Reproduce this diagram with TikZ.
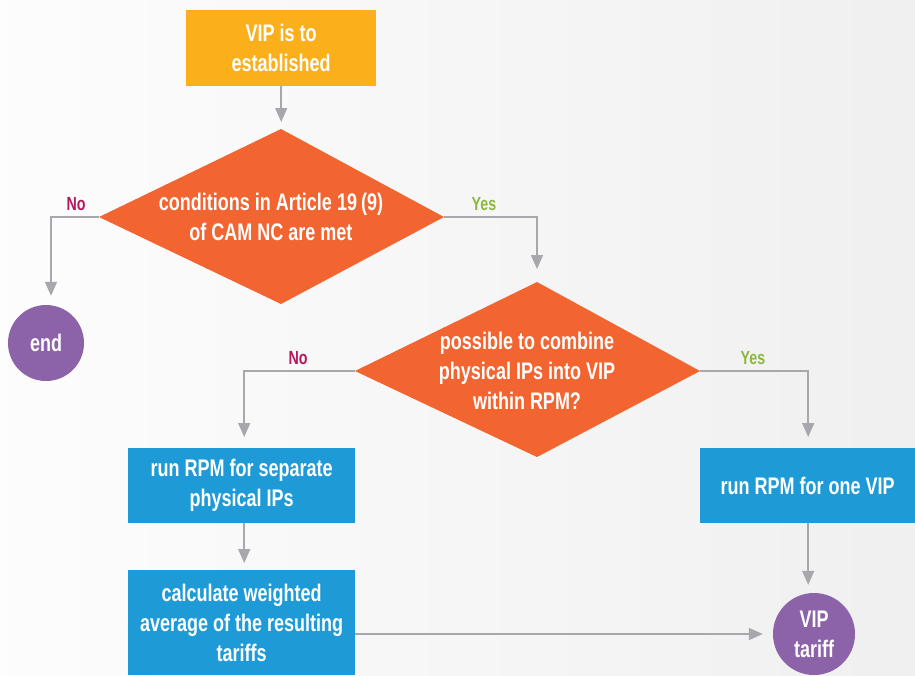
\documentclass[tikz,border=0pt]{standalone}
\usepackage{fontspec}
\setmainfont{Liberation Sans}[FakeStretch=0.75]
\usetikzlibrary{arrows.meta,shapes.geometric,calc}
\definecolor{bg}{HTML}{F7F7F7}
\definecolor{cyel}{HTML}{FBB01B}
\definecolor{cora}{HTML}{F26531}
\definecolor{cblu}{HTML}{1E9BD7}
\definecolor{cpur}{HTML}{8C62A9}
\definecolor{carr}{HTML}{A7A8AB}
\definecolor{cno}{HTML}{B5195D}
\definecolor{cyes}{HTML}{8CB83F}
\tikzset{
  maintxt/.style={text=white,font=\fontsize{24}{30}\selectfont\bfseries,align=center},
  boxy/.style={maintxt,fill=#1,inner sep=0pt,anchor=north west},
  circ/.style={maintxt,circle,fill=cpur,inner sep=0pt},
  conn/.style={draw=carr,line width=1.5pt,-{Triangle[width=12pt,length=14pt]}},
  lab/.style={font=\fontsize{19}{20}\selectfont\bfseries}
}
\begin{document}
\begin{tikzpicture}[x=1pt,y=-1pt]
\useasboundingbox (0,0) rectangle (915,675);
\shade[left color=white!70!bg,right color=bg!97!black] (0,0) rectangle (915,675);
% start box
\node[boxy=cyel,minimum width=190pt,minimum height=76pt] (start) at (186,10) {VIP is to\\established};
% diamond 1
\coordinate (d1t) at (281,129);
\coordinate (d1l) at (99,217);
\coordinate (d1r) at (444,217);
\coordinate (d1b) at (281,304);
\fill[cora] (d1t) -- (d1r) -- (d1b) -- (d1l) -- cycle;
\node[maintxt] (d1) at (271,217) {conditions in Article 19\,(9)\\of CAM NC are met};
% diamond 2
\coordinate (d2t) at (537,282);
\coordinate (d2l) at (355,371);
\coordinate (d2r) at (700,371);
\coordinate (d2b) at (537,457);
\fill[cora] (d2t) -- (d2r) -- (d2b) -- (d2l) -- cycle;
\node[maintxt] (d2) at (527,371) {possible to combine\\physical IPs into VIP\\within RPM?};
% end circle
\node[circ,minimum size=76pt] (endc) at (46,343) {end};
% boxes
\node[boxy=cblu,minimum width=227pt,minimum height=75pt] (l1) at (128,448) {run RPM for separate\\physical IPs};
\node[boxy=cblu,minimum width=215pt,minimum height=75pt] (r1) at (700,448) {run RPM for one VIP};
\node[boxy=cblu,minimum width=227pt,minimum height=105pt] (l2) at (128,570) {calculate weighted\\average of the resulting\\tariffs};
\node[circ,minimum size=82pt] (vip) at (814,634) {VIP\\tariff};
% connectors
\draw[conn,shorten >=7pt] (start.south) -- (start.south |- d1t);
\draw[conn,shorten >=9pt] (d1l) -| ([xshift=5pt]endc.north);
\draw[conn,shorten >=13pt] (d1r) -| (d2t);
\draw[conn,shorten >=11pt] (d2l) -| ([xshift=2.5pt]l1.north);
\draw[conn,shorten >=11pt] (d2r) -| ([xshift=0.5pt]r1.north);
\draw[conn,shorten >=7pt] ([xshift=2.5pt]l1.south) -- ([xshift=2.5pt]l2.north);
\draw[conn,shorten >=8pt] ([xshift=0.5pt]r1.south) -- ([xshift=0.5pt]r1.south |- vip.north);
\draw[conn,shorten >=10pt] (l2.east |- vip) -- (vip.west);
% labels
\node[lab,text=cno] (no1) at (76,204) {No};
\node[lab,text=cyes] (yes1) at (484,204) {Yes};
\node[lab,text=cno] (no2) at (298,358) {No};
\node[lab,text=cyes] (yes2) at (753,358) {Yes};
\end{tikzpicture}
\end{document}
